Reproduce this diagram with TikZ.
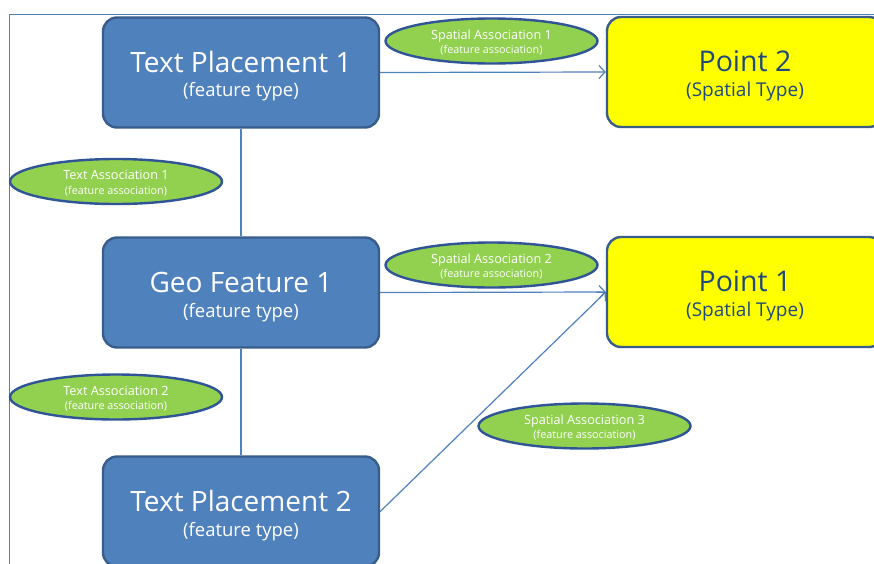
\documentclass[tikz,border=0pt]{standalone}
\usepackage{fontspec}
\setmainfont{Open Sans}
\usetikzlibrary{shapes.geometric,arrows.meta}
\definecolor{boxblue}{HTML}{4F81BD}
\definecolor{edgeblue}{HTML}{385D8A}
\definecolor{elledge}{HTML}{2F5597}
\definecolor{ellgreen}{HTML}{92D050}
\definecolor{ptext}{HTML}{1F497D}
\definecolor{ptfill}{HTML}{FFFF00}
\tikzset{
  ftbox/.style={rectangle, rounded corners=14pt, draw=edgeblue, line width=2.4pt, fill=boxblue,
    minimum width=276pt, minimum height=110pt, text=white, align=center, inner sep=0pt},
  ptbox/.style={rectangle, rounded corners=14pt, draw=edgeblue, line width=2.4pt, fill=ptfill,
    minimum width=276pt, minimum height=110pt, text=ptext, align=center, inner sep=0pt},
  assoc/.style={ellipse, draw=elledge, line width=2.4pt, fill=ellgreen, minimum width=212pt,
    minimum height=45pt, text=white, align=center, inner sep=0pt},
  link/.style={draw=boxblue, line width=1.2pt},
  arrowlink/.style={link, -{Straight Barb[length=6pt,width=13pt]}},
}
\newcommand{\bigtitle}[2]{\rule{0pt}{29pt}{\fontsize{28}{30}\selectfont #1}\\[9pt]{\fontsize{18.5}{20}\selectfont #2}}
\newcommand{\pttitle}[2]{\rule{0pt}{29pt}{\fontsize{28.5}{30}\selectfont #1}\\[9pt]{\fontsize{19}{20}\selectfont #2}}
\newcommand{\smalltitle}[2]{\rule{0pt}{13pt}{\fontsize{12.7}{14}\selectfont #1}\\[2.5pt]{\fontsize{10.8}{12}\selectfont #2}}
\begin{document}
\begin{tikzpicture}[x=1pt,y=-1pt]
\useasboundingbox (0,0) rectangle (874,563);
\clip (0,0) rectangle (874,563);
\fill[white] (0,0) rectangle (874,563);
% frame
\draw[draw=boxblue, line width=1.8pt] (9.5,565) -- (9.5,14.5) -- (876,14.5);
% feature boxes
\node[ftbox] (tp1) at (241,72.5) {\bigtitle{Text Placement 1}{(feature type)}};
\node[ftbox] (gf1) at (241,292.5) {\bigtitle{Geo Feature 1}{(feature type)}};
\node[ftbox] (tp2) at (241,511.5) {\bigtitle{Text Placement 2}{(feature type)}};
\node[ptbox] (pt2) at (745,72) {\pttitle{Point 2}{(Spatial Type)}};
\node[ptbox] (pt1) at (745,292) {\pttitle{Point 1}{(Spatial Type)}};
% connectors
\draw[link] (tp1.south) -- (gf1.north);
\draw[link] (gf1.south) -- (tp2.north);
\draw[arrowlink] (tp1.east) -- (pt2.west);
\draw[arrowlink] (gf1.east) -- (pt1.west);
\draw[arrowlink] (tp2.east) -- (pt1.west);
% association ellipses
\node[assoc] (sa1) at (491.5,41) {\smalltitle{Spatial Association 1}{(feature association)}};
\node[assoc] (ta1) at (116,181.5) {\smalltitle{Text Association 1}{(feature association)}};
\node[assoc] (sa2) at (491.5,265) {\smalltitle{Spatial Association 2}{(feature association)}};
\node[assoc] (ta2) at (116,397) {\smalltitle{Text Association 2}{(feature association)}};
\node[assoc] (sa3) at (584.5,426) {\smalltitle{Spatial Association 3}{(feature association)}};
\end{tikzpicture}
\end{document}
